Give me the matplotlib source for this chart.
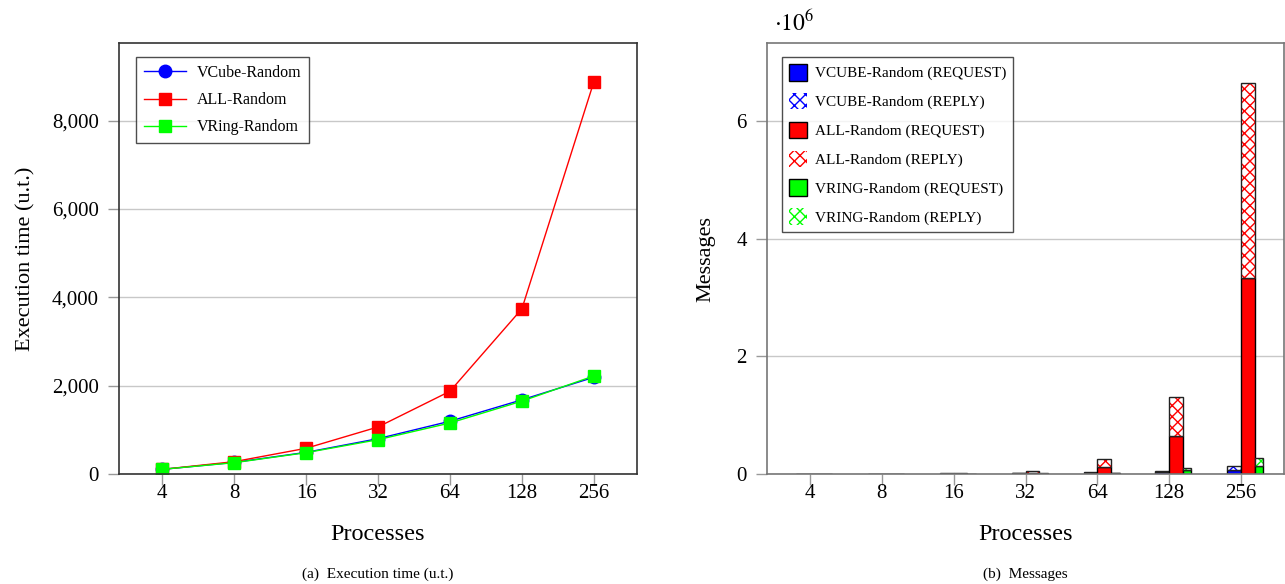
"""Execution time + message counts, VCube / ALL / VRing -> out.png"""
import matplotlib
matplotlib.use("Agg")
import matplotlib.pyplot as plt
import numpy as np
from matplotlib.patches import Rectangle
from matplotlib.ticker import FuncFormatter

plt.rcParams["font.family"] = ["Liberation Serif", "DejaVu Serif"]
plt.rcParams["mathtext.fontset"] = "stix"

processes = ["4", "8", "16", "32", "64", "128", "256"]

# (a) execution time (u.t.)
vcube_time = [105, 262, 490, 800, 1195, 1680, 2190]
all_time = [105, 279, 582, 1065, 1873, 3740, 8880]
vring_time = [106, 256, 483, 777, 1155, 1650, 2220]

# (b) messages, millions
vcube_req = [0.0005, 0.002, 0.005, 0.010, 0.015, 0.030, 0.065]
vcube_rep = [0.0005, 0.002, 0.004, 0.008, 0.013, 0.028, 0.068]
all_req = [0.0003, 0.002, 0.006, 0.025, 0.125, 0.650, 3.330]
all_rep = [0.0003, 0.002, 0.006, 0.025, 0.125, 0.660, 3.320]
vring_req = [0.0005, 0.002, 0.004, 0.006, 0.012, 0.060, 0.136]
vring_rep = [0.0003, 0.001, 0.003, 0.004, 0.008, 0.035, 0.140]

BLUE, RED, GREEN = "#0000ff", "#ff0000", "#00ff00"
GRID = "#c8c8c8"

fig = plt.figure(figsize=(12.85, 5.84), dpi=100)
W, H = 1285, 584
ax1 = fig.add_axes([119/W, 1 - 474/H, (637-119)/W, (474-43)/H])
ax2 = fig.add_axes([767/W, 1 - 474/H, (1284-767)/W, (474-43)/H])

x = np.arange(len(processes))


def style(ax, spine_col):
    ax.set_xlim(-0.6, 6.6)
    ax.set_xticks(x, processes)
    for s in ax.spines.values():
        s.set_color(spine_col); s.set_linewidth(1.2)
    ax.grid(axis="y", color=GRID, lw=1)
    ax.set_axisbelow(True)
    ax.tick_params(axis="both", color="#999999", length=8, labelsize=15, width=1)
    ax.tick_params(axis="x", pad=-1)
    ax.tick_params(axis="y", pad=6.5)
    ax.set_xlabel("Processes", fontsize=17.5, labelpad=15)


# ---- left: lines
style(ax1, "#333333")
ax1.plot(x, vcube_time, "-o", color=BLUE, lw=1, ms=9, label="VCube-Random")
ax1.plot(x, all_time, "-s", color=RED, lw=1, ms=9, label="ALL-Random")
ax1.plot(x, vring_time, "-s", color=GREEN, lw=1, ms=9, label="VRing-Random")
ax1.set_ylim(0, 9760)
ax1.set_yticks([0, 2000, 4000, 6000, 8000])
ax1.yaxis.set_major_formatter(FuncFormatter(lambda v, p: f"{int(v):,}"))
ax1.set_ylabel("Execution time (u.t.)", fontsize=16, labelpad=12)
leg = ax1.legend(loc="upper left", bbox_to_anchor=(0.033, 0.9675), fontsize=11.5,
                 frameon=True, fancybox=False, edgecolor="#222222", borderaxespad=0,
                 handlelength=2.6, borderpad=0.5, labelspacing=0.7, handletextpad=0.7)
leg.get_frame().set_linewidth(1.0)

# ---- right: stacked bars
style(ax2, "#777777")
bw, bw_small = 0.19, 0.12
series = [
    (x - bw, bw, vcube_req, vcube_rep, BLUE, "VCUBE-Random"),
    (x, bw, all_req, all_rep, RED, "ALL-Random"),
    (x + bw, bw_small, vring_req, vring_rep, GREEN, "VRING-Random"),
]
handles = []
for xs, w, req, rep, col, name in series:
    ax2.bar(xs, req, w, align="edge", color=col, edgecolor="black", lw=1)
    ax2.bar(xs, rep, w, bottom=req, align="edge", color="white",
            edgecolor=col, hatch="xxx", lw=0)
    ax2.bar(xs, rep, w, bottom=req, align="edge", fill=False,
            edgecolor="#222222", lw=1)
    h1 = Rectangle((0, 0), 1, 1, facecolor=col, edgecolor="black", lw=1)
    h2 = Rectangle((0, 0), 1, 1, facecolor="white", edgecolor=col, hatch="xxx", lw=0)
    handles += [(h1, f"{name} (REQUEST)"), (h2, f"{name} (REPLY)")]
ax2.set_ylim(0, 7.33)
ax2.set_yticks([0, 2, 4, 6])
ax2.set_ylabel("Messages", fontsize=16, labelpad=15)
leg2 = ax2.legend([h for h, _ in handles], [l for _, l in handles], loc="upper left",
                  bbox_to_anchor=(0.029, 0.9675), fontsize=11, frameon=True,
                  fancybox=False, edgecolor="#222222", borderaxespad=0, handlelength=1.2,
                  handleheight=1.3, borderpad=0.45, labelspacing=0.8, handletextpad=0.5)
leg2.get_frame().set_linewidth(1.0)
fig.text(774/W, 1 - 23/H, r"$\cdot 10^6$", fontsize=17, ha="left", va="center")

# captions
fig.text(378/W, 1 - 574/H, "(a)  Execution time (u.t.)", ha="center", va="center", fontsize=11)
fig.text(1025/W, 1 - 574/H, "(b)  Messages", ha="center", va="center", fontsize=11)

fig.savefig("out.png", dpi=100)
